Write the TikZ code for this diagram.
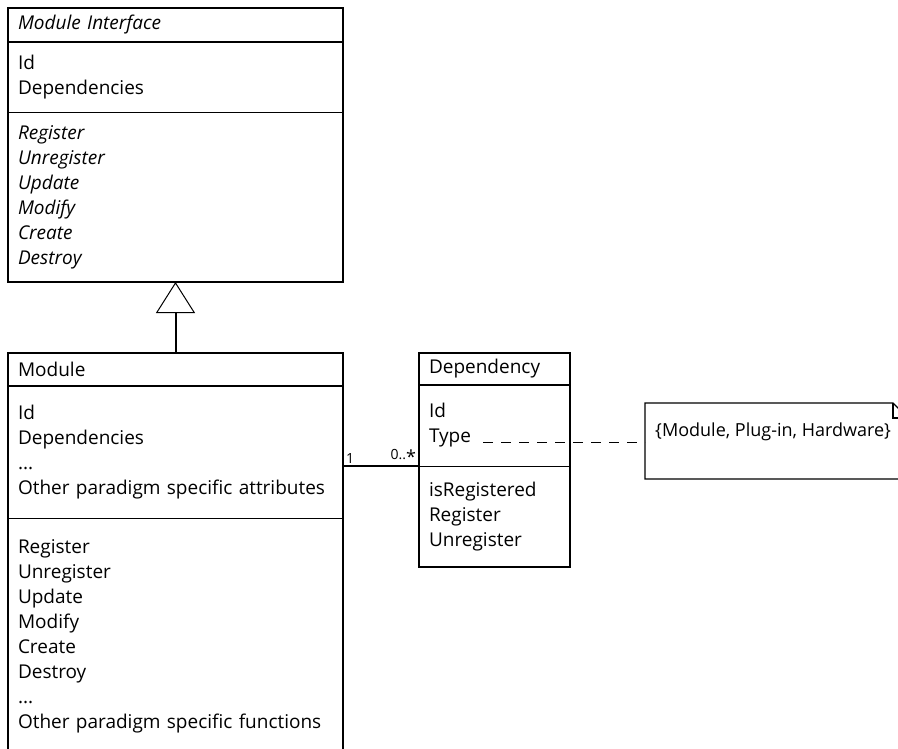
\documentclass[tikz,border=0pt]{standalone}
\usepackage{fontspec}
\setmainfont{Open Sans}
\usetikzlibrary{
  positioning,
  arrows.meta,
  calc
}
\tikzset{
  % Class name compartment
  clsname/.style={
    rectangle, draw, line width=2pt, outer sep=0pt,
    text width=#1, minimum height=33pt,
    inner xsep=10pt, inner ysep=0pt,
    align=left, font=\fontsize{19}{25}\selectfont
  },
  % Attribute / operation compartment
  comp/.style={
    rectangle, draw, line width=1pt, outer sep=0pt,
    text width=#1,
    inner xsep=10pt, inner ysep=0pt,
    align=left, font=\fontsize{19}{25}\selectfont
  },
  % Outer class frame
  frame/.style={draw, line width=2pt},
  % Generalisation
  gen/.style={
    -{Triangle[open, length=31pt, width=39pt, line width=1pt]},
    line width=2pt
  },
  % Association
  assoc/.style={line width=2pt},
  % Multiplicity label
  mult/.style={font=\fontsize{14}{15}\selectfont, inner sep=2pt},
  % Dependency to note
  dep/.style={line width=1pt, dash pattern=on 10pt off 8pt},
  % Note box
  notebox/.style={rectangle, outer sep=0pt, minimum width=263pt, minimum height=76pt},
  notetext/.style={font=\fontsize{18}{25}\selectfont, inner xsep=2pt}
}
\newcommand{\manystar}{\raisebox{-0.45ex}{\fontsize{18}{18}\selectfont *}}
\begin{document}
\begin{tikzpicture}[x=1pt, y=1pt]
  \useasboundingbox (0,0) rectangle (898,-748);
  \clip (0,0) rectangle (898,-748);

  % Module Interface
  \node[clsname=315pt, minimum height=34pt, anchor=north west] (ititle) at (8,-8) {\itshape Module Interface};
  \node[comp=315pt, minimum height=70pt, below=0pt of ititle]  (iattr) {Id\\Dependencies};
  \node[comp=315pt, minimum height=170pt, below=0pt of iattr]  (imeth) {\itshape Register\\Unregister\\Update\\Modify\\Create\\Destroy};
  \draw[frame] (ititle.north west) rectangle (imeth.south east);

  % Module
  \node[clsname=315pt, anchor=north west] (mtitle) at (8,-353) {Module};
  \node[comp=315pt, minimum height=132pt, below=0pt of mtitle] (mattr) {Id\\Dependencies\\...\\Other paradigm specific attributes};
  \node[comp=315pt, minimum height=236pt, below=0pt of mattr]  (mmeth) {Register\\Unregister\\Update\\Modify\\Create\\Destroy\\...\\Other paradigm specific functions};
  \draw[frame] (mtitle.north west) rectangle (mmeth.south east);

  % Dependency
  \node[clsname=131pt, minimum height=32pt, anchor=north west] (dtitle) at (419,-353) {Dependency};
  \node[comp=131pt, minimum height=81pt, below=0pt of dtitle]  (dattr) {Id\\Type};
  \node[comp=131pt, minimum height=101pt, below=0pt of dattr]  (dmeth) {isRegistered\\Register\\Unregister};
  \draw[frame] (dtitle.north west) rectangle (dmeth.south east);

  % Type note
  \node[notebox, anchor=north west] (tnote) at (645,-403) {};
  \draw[line width=1.3pt] (tnote.north west) -- ($(tnote.north east)+(-15,0)$) -- ($(tnote.north east)+(0,-15)$)
    -- (tnote.south east) -- (tnote.south west) -- cycle;
  \draw[line width=1.3pt] ($(tnote.north east)+(-15,0)$) -- ++(0,-15) -- ++(15,0);
  \node[notetext, anchor=west] (tnotetxt) at ($(tnote.north west)+(8,-29)$) {\{Module, Plug-in, Hardware\}};

  % Connectors
  \draw[gen] (mtitle.north) -- (imeth.south);
  \draw[assoc] (mattr.east |- dmeth.north west)
    -- node[mult, at start, above right]{1} node[mult, at end, above left]{0..\manystar} (dmeth.north west);
  \coordinate (typeend) at ($(dattr.north west)+(64,-57)$);
  \draw[dep] (typeend) -- (typeend -| tnote.west);
\end{tikzpicture}
\end{document}
